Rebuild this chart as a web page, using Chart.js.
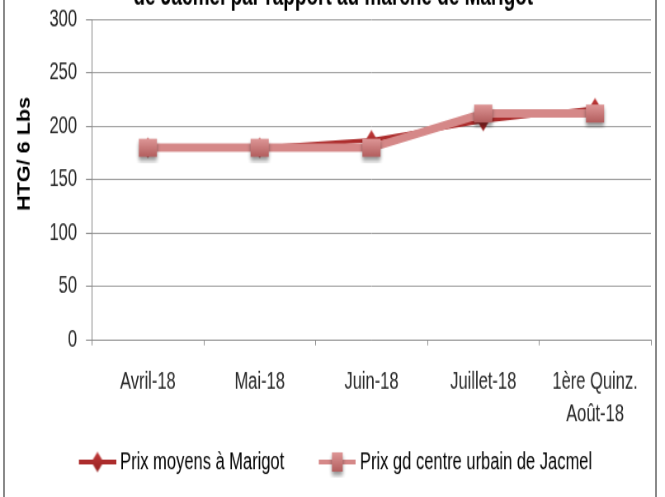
<!DOCTYPE html>
<html>
<head>
<meta charset="utf-8">
<script src="https://cdn.jsdelivr.net/npm/chart.js@4.4.1/dist/chart.umd.min.js"></script>
<style>
  html, body { margin: 0; padding: 0; background: #fff; }
  #frame { position: relative; width: 665px; height: 497px; overflow: hidden; }
  /* the source picture is a squeezed/stretched export: draw at 806x434 and scale */
  #stretch { position: absolute; left: 0; top: -24px; width: 806px; height: 434px; transform: scale(0.825, 1.2); transform-origin: 0 0; }
  #border { position: absolute; left: 3px; top: -10px; width: 650px; height: 530px; border: 2px solid #8a8a8a; pointer-events: none; }
</style>
</head>
<body>
<div id="frame">
  <div id="stretch"><canvas id="chart" width="806" height="434"></canvas></div>
  <div id="border"></div>
</div>
<script>
const TITLE = "de Jacmel par rapport au marché de Marigot"
const Y_TITLE = "HTG/ 6 Lbs"
const CATEGORIES = ["Avril-18", "Mai-18", "Juin-18", "Juillet-18", ["1ère Quinz.", "Août-18"]]
const SERIES_NAMES = ["Prix moyens à Marigot", "Prix gd centre urbain de Jacmel"]
const MARIGOT = [180, 180, 187, 205, 217]
const JACMEL = [180, 180, 180, 212, 212]
const Y_MIN = 0
const Y_MAX = 300
const Y_STEP = 50

const COLOR_MARIGOT = "#AC2C2C"
const COLOR_JACMEL = "#D58888"
const COLOR_GRID = "#9c9c9c"
const COLOR_AXIS = "#8c8c8c"
const COLOR_TEXT = "#262626"
const FONT = "'Liberation Sans', Arial, sans-serif"

function squareMarker(w, h) {
  const c = document.createElement("canvas")
  c.width = w + 10
  c.height = h + 10
  const ctx = c.getContext("2d")
  const g = ctx.createLinearGradient(0, 5, 0, 5 + h)
  g.addColorStop(0, "#DE9797")
  g.addColorStop(1, "#B35E5E")
  ctx.shadowColor = "rgba(0,0,0,0.45)"
  ctx.shadowBlur = 4
  ctx.shadowOffsetY = 3
  ctx.fillStyle = g
  ctx.fillRect(5, 5, w, h)
  return c
}

function diamondMarker(w, h) {
  const c = document.createElement("canvas")
  c.width = w + 6
  c.height = h + 6
  const ctx = c.getContext("2d")
  const cx = c.width / 2, cy = c.height / 2
  const g = ctx.createLinearGradient(0, 3, 0, 3 + h)
  g.addColorStop(0, "#C23A3A")
  g.addColorStop(1, "#951F1F")
  ctx.fillStyle = g
  ctx.beginPath()
  ctx.moveTo(cx, cy - h / 2)
  ctx.lineTo(cx + w / 2, cy)
  ctx.lineTo(cx, cy + h / 2)
  ctx.lineTo(cx - w / 2, cy)
  ctx.closePath()
  ctx.fill()
  return c
}

const LEGEND_BOX = 63
function legendMarker(color, marker) {
  // visible part sits at the right end of the bitmap, next to the text
  const c = document.createElement("canvas")
  c.width = LEGEND_BOX + 10
  c.height = 26
  const ctx = c.getContext("2d")
  const x0 = c.width - 45
  ctx.strokeStyle = color
  ctx.lineWidth = 4
  ctx.beginPath()
  ctx.moveTo(x0, 13)
  ctx.lineTo(c.width, 13)
  ctx.stroke()
  ctx.drawImage(marker, x0 + 22.5 - marker.width / 2, 13 - marker.height / 2)
  return c
}

const squarePoint = squareMarker(22, 15)
const diamondPoint = diamondMarker(14.5, 17)
const legendMarigot = legendMarker(COLOR_MARIGOT, diamondMarker(14.5, 17))
const legendJacmel = legendMarker(COLOR_JACMEL, squareMarker(13, 16))

const textPlugin = {
  id: "texts",
  afterDraw(chart) {
    const ctx = chart.ctx
    ctx.save()
    ctx.fillStyle = "#000"
    ctx.font = "bold 23px " + FONT
    ctx.textAlign = "center"
    ctx.textBaseline = "alphabetic"
    ctx.fillText(TITLE, 404, 24)
    ctx.restore()

    ctx.save()
    ctx.translate(30.3, 148.3)
    ctx.scale(1.21, 1)
    ctx.rotate(-Math.PI / 2)
    ctx.font = "bold 18px " + FONT
    ctx.fillStyle = "#000"
    ctx.textAlign = "center"
    ctx.textBaseline = "middle"
    ctx.fillText(Y_TITLE, 0, 0)
    ctx.restore()
  },
}

new Chart(document.getElementById("chart"), {
  type: "line",
  data: {
    labels: CATEGORIES,
    datasets: [
      {
        label: SERIES_NAMES[0],
        data: MARIGOT,
        borderColor: COLOR_MARIGOT,
        backgroundColor: COLOR_MARIGOT,
        borderWidth: 3.5,
        pointStyle: diamondPoint,
        pointRadius: 8,
        tension: 0,
        order: 2,
      },
      {
        label: SERIES_NAMES[1],
        data: JACMEL,
        borderColor: COLOR_JACMEL,
        backgroundColor: COLOR_JACMEL,
        borderWidth: 7,
        pointStyle: squarePoint,
        pointRadius: 10,
        tension: 0,
        order: 1,
      },
    ],
  },
  options: {
    responsive: false,
    animation: false,
    devicePixelRatio: 1,
    layout: { padding: { left: 0, right: 15.8, top: 36.25, bottom: 9 } },
    scales: {
      x: {
        offset: true,
        grid: { offset: true, drawOnChartArea: false, tickLength: 4.5, color: COLOR_AXIS },
        border: { color: COLOR_AXIS },
        ticks: {
          color: COLOR_TEXT,
          font: { family: FONT, size: 20, lineHeight: 1.355 },
          padding: 17,
          maxRotation: 0,
          autoSkip: false,
        },
        afterFit: (s) => { s.height = 72.9 },
      },
      y: {
        min: Y_MIN,
        max: Y_MAX,
        ticks: {
          stepSize: Y_STEP,
          color: COLOR_TEXT,
          font: { family: FONT, size: 20 },
          padding: 10.9,
        },
        grid: { color: COLOR_GRID, tickLength: 7.3, tickColor: COLOR_AXIS },
        border: { color: COLOR_AXIS },
        afterFit: (s) => { s.width = 111.5 },
      },
    },
    plugins: {
      legend: {
        position: "bottom",
        labels: {
          usePointStyle: true,
          pointStyleWidth: LEGEND_BOX,
          padding: 18.8,
          color: COLOR_TEXT,
          font: { family: FONT, size: 20 },
          generateLabels: () => [
            { text: SERIES_NAMES[0], pointStyle: legendMarigot, fillStyle: COLOR_MARIGOT, strokeStyle: COLOR_MARIGOT, lineWidth: 0, hidden: false, datasetIndex: 0 },
            { text: SERIES_NAMES[1], pointStyle: legendJacmel, fillStyle: COLOR_JACMEL, strokeStyle: COLOR_JACMEL, lineWidth: 0, hidden: false, datasetIndex: 1 },
          ],
        },
      },
      tooltip: { enabled: false },
    },
  },
  plugins: [textPlugin],
})
</script>
</body>
</html>
